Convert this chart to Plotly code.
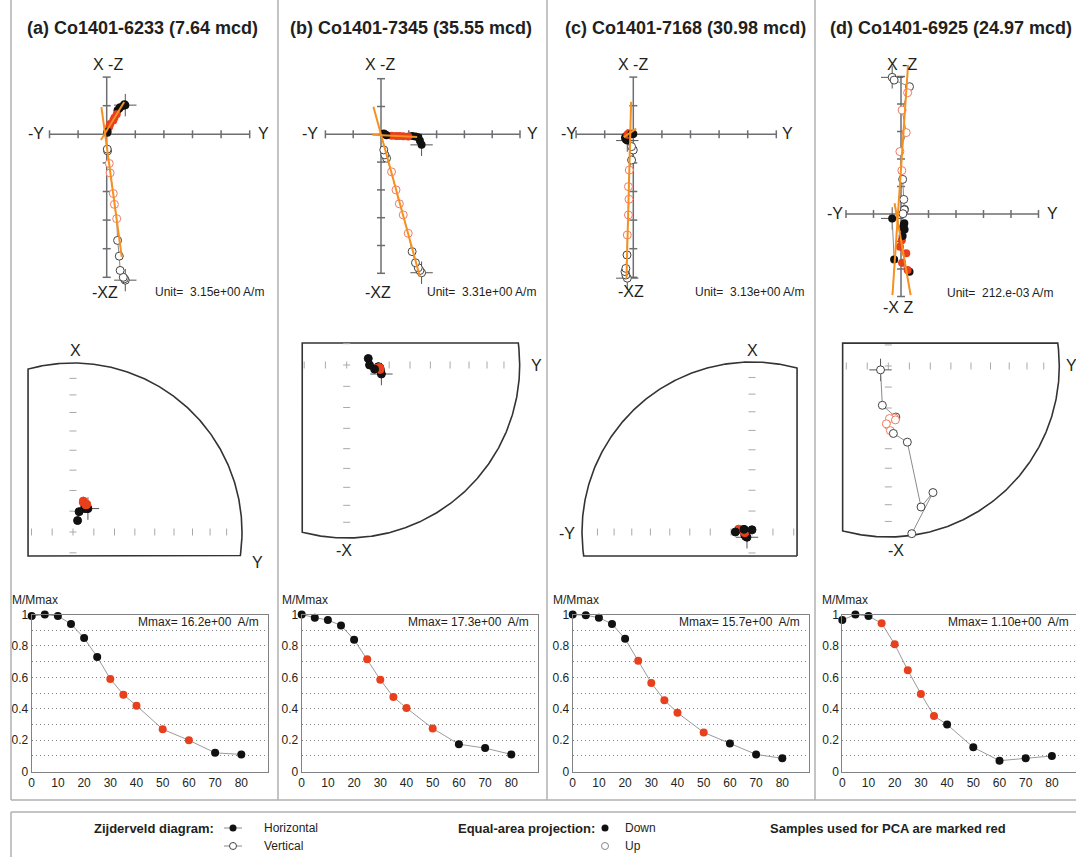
import numpy as np
import plotly.graph_objects as go

W, H = 1076, 857
FONT = "Liberation Sans, Arial, Helvetica, sans-serif"
TXT = "#231f20"

# ---------------- data ----------------
steps = [0, 5, 10, 15, 20, 25, 30, 35, 40, 50, 60, 70, 80]

titles = ["(a) Co1401-6233 (7.64 mcd)", "(b) Co1401-7345 (35.55 mcd)",
          "(c) Co1401-7168 (30.98 mcd)", "(d) Co1401-6925 (24.97 mcd)"]
unit_labels = ["Unit=  3.15e+00 A/m", "Unit=  3.31e+00 A/m",
               "Unit=  3.13e+00 A/m", "Unit=  212.e-03 A/m"]
mmax_labels = ["Mmax= 16.2e+00  A/m", "Mmax= 17.3e+00  A/m",
               "Mmax= 15.7e+00  A/m", "Mmax= 1.10e+00  A/m"]
tick_x_labels = [0, 10, 20, 30, 40, 50, 60, 70, 80]

# Zijderveld components (in units of "Unit"): Y (east), X (north), Z (down)
comp_y_a = [0.65, 0.62, 0.58, 0.47, 0.44, 0.38, 0.35, 0.27, 0.23, 0.12, 0.09, 0.03, 0.02]
comp_x_a = [1.02, 1.05, 1.00, 0.95, 0.90, 0.84, 0.70, 0.58, 0.48, 0.36, 0.26, 0.10, 0.05]
comp_z_a = [5.10, 5.05, 5.00, 4.76, 4.26, 3.71, 2.95, 2.45, 2.07, 1.35, 1.02, 0.58, 0.52]
mnorm_a = [0.99, 1.00, 0.99, 0.94, 0.85, 0.73, 0.59, 0.49, 0.42, 0.27, 0.20, 0.12, 0.11]
pca_a = [30, 35, 40, 50, 60]

comp_y_b = [1.46, 1.40, 1.34, 1.24, 1.12, 0.98, 0.80, 0.66, 0.54, 0.38, 0.20, 0.14, 0.10]
comp_x_b = [-0.38, -0.23, -0.11, -0.08, -0.06, -0.08, -0.07, -0.06, -0.06, -0.05, -0.03, 0.00, 0.03]
comp_z_b = [4.98, 4.90, 4.80, 4.62, 4.22, 3.56, 2.90, 2.50, 2.00, 1.35, 0.86, 0.74, 0.56]
mnorm_b = [1.00, 0.98, 0.965, 0.93, 0.84, 0.715, 0.585, 0.475, 0.405, 0.275, 0.175, 0.15, 0.11]
pca_b = [25, 30, 35, 40, 50]

comp_y_c = [-0.21, -0.26, -0.29, -0.26, -0.22, -0.21, -0.17, -0.15, -0.17, -0.14, -0.06, 0.00, -0.06]
comp_x_c = [-0.22, -0.18, -0.12, -0.08, -0.04, -0.02, 0.00, 0.02, 0.03, 0.03, 0.02, 0.01, 0.00]
comp_z_c = [5.03, 4.92, 4.80, 4.69, 4.22, 3.52, 2.82, 2.27, 1.83, 1.25, 0.90, 0.55, 0.43]
mnorm_c = [1.00, 0.995, 0.98, 0.94, 0.845, 0.705, 0.565, 0.455, 0.375, 0.25, 0.18, 0.11, 0.085]
pca_c = [25, 30, 35, 40, 50]

comp_y_d = [-0.32, -0.25, 0.31, 0.24, 0.04, 0.19, -0.04, 0.03, 0.06, 0.10, 0.13, 0.12, 0.07]
comp_x_d = [-0.16, -1.65, -2.10, -2.04, -1.77, -1.43, -1.19, -0.95, -0.80, -0.40, -0.56, -0.34, -0.50]
comp_z_d = [-4.97, -4.87, -4.63, -4.41, -3.78, -2.96, -2.27, -1.58, -1.26, -0.53, -0.17, -0.15, -0.01]
mnorm_d = [0.965, 1.00, 0.99, 0.945, 0.81, 0.645, 0.495, 0.355, 0.30, 0.155, 0.07, 0.085, 0.10]
pca_d = [15, 20, 25, 30, 35]

# PCA line extents: vertical projection along -Z, horizontal along the given component
pca_vrange = [[0.95, -4.29], [0.99, -5.12], [1.14, -5.03], [5.42, -2.95]]
pca_hrange = [("x", [-0.2, 1.13]), ("y", [-0.31, 1.30]), ("y", [-0.33, 0.10]), ("x", [0.39, -2.95])]

panels = [
    dict(Y=comp_y_a, X=comp_x_a, Z=comp_z_a, M=mnorm_a, pca=pca_a),
    dict(Y=comp_y_b, X=comp_x_b, Z=comp_z_b, M=mnorm_b, pca=pca_b),
    dict(Y=comp_y_c, X=comp_x_c, Z=comp_z_c, M=mnorm_c, pca=pca_c),
    dict(Y=comp_y_d, X=comp_x_d, Z=comp_z_d, M=mnorm_d, pca=pca_d),
]

# ---------------- geometry (pixels) ----------------
cols = [(12, 278), (279, 547), (548, 815), (816, 1076)]
title_x = [142, 411, 685, 951]
zij_geo = [
    dict(ox=106.7, oy=134.3, s=28.6, hx=(-2, 5), vy=(-5, 2),
         lab=[("-Y", 36, 133), ("Y", 263, 133), ("X -Z", 108, 65), ("-XZ", 105, 292)], unit=(266, 292)),
    dict(ox=381.0, oy=134.3, s=27.8, hx=(-2, 5), vy=(-5, 2),
         lab=[("-Y", 310, 133), ("Y", 532, 133), ("X -Z", 380, 65), ("-XZ", 378, 292)], unit=(538, 292)),
    dict(ox=633.3, oy=134.3, s=28.6, hx=(-2, 5), vy=(-5, 2),
         lab=[("-Y", 569, 133), ("Y", 787, 133), ("X -Z", 633, 65), ("-XZ", 631, 291)], unit=(806, 292)),
    dict(ox=901.0, oy=214.0, s=27.5, hx=(-2, 5), vy=(-3, 5),
         lab=[("-Y", 835, 214), ("Y", 1052, 214), ("X -Z", 902, 65), ("-X Z", 898, 307)], unit=(1055, 293)),
]
ea_geo = [
    dict(cx=73.0, cy=532.0, R=169, win=(-0.266, 1.0, -0.142, 1.0), lab=[("X", 75, 350), ("Y", 257, 562)]),
    dict(cx=346.7, cy=365.0, R=173, win=(-0.257, 1.0, -1.0, 0.127), lab=[("Y", 536, 365), ("-X", 344, 550)]),
    dict(cx=752.0, cy=532.0, R=170, win=(-1.0, 0.265, -0.141, 1.0), lab=[("X", 752, 350), ("-Y", 567, 533)]),
    dict(cx=888.3, cy=366.0, R=171, win=(-0.267, 1.0, -1.0, 0.134), lab=[("Y", 1071, 365), ("-X", 896, 550)]),
]
dm_geo = [(31.7, 267.5), (301.7, 537.5), (572.7, 808.5), (842.3, 1076.0)]
dm_top, dm_bot = 614.5, 771.7
dm_px10 = 26.2

BLACK = "#111111"
RED = "#e8401c"
RED_OPEN = "#ef7b63"
GRAY = "#8a8a8a"
ORANGE = "#f7901e"
AXG = "#6d6e71"
CROSS = "#555555"

fig = go.Figure()
layout = {}
annotations = []
shapes = []


def dom_x(x0, x1):
    return [max(0.0, x0 / W), min(1.0, x1 / W)]


def dom_y(y0, y1):
    return [max(0.0, 1 - y1 / H), min(1.0, 1 - y0 / H)]


def set_axes(n, xd, yd, xr, yr, xa_extra=None, ya_extra=None):
    xa = dict(domain=xd, range=xr, visible=False, fixedrange=True, anchor=f"y{n}", automargin=False)
    ya = dict(domain=yd, range=yr, visible=False, fixedrange=True, anchor=f"x{n}", automargin=False)
    if xa_extra:
        xa.update(xa_extra)
    if ya_extra:
        ya.update(ya_extra)
    layout["xaxis" if n == 1 else f"xaxis{n}"] = xa
    layout["yaxis" if n == 1 else f"yaxis{n}"] = ya


def ann(text, x, y, size=12, xanchor="center", yanchor="middle", bold=False, color=TXT):
    if bold:
        text = f"<b>{text}</b>"
    annotations.append(dict(text=text, x=x / W, y=1 - y / H, xref="paper", yref="paper",
                            showarrow=False, xanchor=xanchor, yanchor=yanchor,
                            font=dict(family=FONT, size=size, color=color)))


def sc(n, **kw):
    kw.setdefault("hoverinfo", "skip")
    kw.setdefault("showlegend", False)
    fig.add_trace(go.Scatter(xaxis=f"x{n}", yaxis=f"y{n}", cliponaxis=False, **kw))


def clip_poly(pts, l, r, b, t):
    def clip(poly, inside, inter):
        out = []
        for i in range(len(poly)):
            cur, prev = poly[i], poly[i - 1]
            if inside(cur):
                if not inside(prev):
                    out.append(inter(prev, cur))
                out.append(cur)
            elif inside(prev):
                out.append(inter(prev, cur))
        return out

    def ix(p, q, xv):
        f = (xv - p[0]) / (q[0] - p[0])
        return (xv, p[1] + f * (q[1] - p[1]))

    def iy(p, q, yv):
        f = (yv - p[1]) / (q[1] - p[1])
        return (p[0] + f * (q[0] - p[0]), yv)

    poly = clip(pts, lambda p: p[0] >= l, lambda p, q: ix(p, q, l))
    poly = clip(poly, lambda p: p[0] <= r, lambda p, q: ix(p, q, r))
    poly = clip(poly, lambda p: p[1] >= b, lambda p, q: iy(p, q, b))
    poly = clip(poly, lambda p: p[1] <= t, lambda p, q: iy(p, q, t))
    return poly


cross_marker = dict(symbol="cross-thin-open", size=16, color=CROSS, line=dict(color=CROSS, width=1))

for p, d in enumerate(panels):
    Y = np.array(d["Y"], float)
    X = np.array(d["X"], float)
    Z = np.array(d["Z"], float)
    M = np.array(d["M"], float)
    red = np.array([s_ in d["pca"] for s_ in steps])

    ann(titles[p], title_x[p], 28, size=18, bold=True)

    # ---------- Zijderveld ----------
    n = 3 * p + 1
    g = zij_geo[p]
    ox, oy, s = g["ox"], g["oy"], g["s"]
    bx0, bx1 = cols[p]
    by0, by1 = 42, 322
    set_axes(n, dom_x(bx0, bx1), dom_y(by0, by1),
             [(bx0 - ox) / s, (bx1 - ox) / s], [(oy - by1) / s, (oy - by0) / s])
    h0, h1 = g["hx"]
    v0, v1 = g["vy"]
    tk = 4.0 / s
    axx = [h0, h1, None, 0, 0, None]
    axy = [0, 0, None, v0, v1, None]
    for t in range(h0, h1 + 1):
        if t != 0:
            axx += [t, t, None]
            axy += [-tk, tk, None]
    for t in range(v0, v1 + 1):
        if t != 0:
            axx += [-tk, tk, None]
            axy += [t, t, None]
    sc(n, x=axx, y=axy, mode="lines", line=dict(color=AXG, width=1.5))

    # NRM crosshairs
    sc(n, x=[Y[0], Y[0]], y=[X[0], -Z[0]], mode="markers", marker=cross_marker)
    # connecting lines
    sc(n, x=Y, y=X, mode="lines", line=dict(color=GRAY, width=1))
    sc(n, x=Y, y=-Z, mode="lines", line=dict(color=GRAY, width=1))
    # vertical projection (open)
    sc(n, x=Y, y=-Z, mode="markers",
       marker=dict(size=8, color="white",
                   line=dict(color=[RED_OPEN if r_ else "#444444" for r_ in red], width=1)))
    # horizontal projection (filled)
    sc(n, x=Y, y=X, mode="markers",
       marker=dict(size=8, color=[RED if r_ else BLACK for r_ in red], line=dict(width=0)))
    # PCA lines fitted through red points
    yr_, zr_, xr_ = Y[red], -Z[red], X[red]
    bv, av = np.polyfit(zr_, yr_, 1)
    vv = np.array(pca_vrange[p])
    sc(n, x=av + bv * vv, y=vv, mode="lines", line=dict(color=ORANGE, width=2))
    orient, hr = pca_hrange[p]
    hv = np.array(hr)
    if orient == "x":
        bh, ah = np.polyfit(xr_, yr_, 1)
        sc(n, x=ah + bh * hv, y=hv, mode="lines", line=dict(color=ORANGE, width=2))
    else:
        bh, ah = np.polyfit(yr_, xr_, 1)
        sc(n, x=hv, y=ah + bh * hv, mode="lines", line=dict(color=ORANGE, width=2))

    for txt, lx, ly in g["lab"]:
        ann(txt, lx, ly, size=16)
    ann(unit_labels[p], g["unit"][0], g["unit"][1], size=12, xanchor="right")

    # ---------- Equal-area ----------
    n = 3 * p + 2
    e = ea_geo[p]
    cx, cy, R = e["cx"], e["cy"], e["R"]
    l, r, b, t = e["win"]
    pad = 14
    set_axes(n, dom_x(cx + l * R - pad, cx + r * R + pad), dom_y(cy - t * R - pad, cy - b * R + pad),
             [l - pad / R, r + pad / R], [b - pad / R, t + pad / R])
    ang = np.linspace(0, 2 * np.pi, 721)[:-1]
    circ = [(float(np.cos(a_)), float(np.sin(a_))) for a_ in ang]
    poly = clip_poly(circ, l, r, b, t)
    poly.append(poly[0])
    sc(n, x=[q[0] for q in poly], y=[q[1] for q in poly], mode="lines",
       line=dict(color="#333333", width=1.6))
    dl = 3.5 / R
    tx, ty = [-dl, dl, None, 0, 0, None], [0, 0, None, -dl, dl, None]
    eps = 1e-6
    for th in range(10, 90, 10):
        rr = np.sqrt(2) * np.sin(np.radians(th) / 2)
        for sg in (-1, 1):
            if l - eps <= sg * rr <= r + eps:
                tx += [sg * rr, sg * rr, None]
                ty += [-dl, dl, None]
            if b - eps <= sg * rr <= t + eps:
                tx += [-dl, dl, None]
                ty += [sg * rr, sg * rr, None]
    sc(n, x=tx, y=ty, mode="lines", line=dict(color="#a7a9ac", width=1))

    Hh = np.hypot(X, Y)
    dec = np.arctan2(Y, X)
    inc = np.arctan2(Z, Hh)
    rad = np.sqrt(2) * np.sin((np.pi / 2 - np.abs(inc)) / 2)
    ex, ey = rad * np.sin(dec), rad * np.cos(dec)
    down = inc > 0
    sc(n, x=[ex[0]], y=[ey[0]], mode="markers", marker=cross_marker)
    sc(n, x=ex, y=ey, mode="lines", line=dict(color=GRAY, width=1))
    fill = []
    edge = []
    for dn, r_ in zip(down, red):
        if dn:
            fill.append(RED if r_ else BLACK)
            edge.append(RED if r_ else BLACK)
        else:
            fill.append("white")
            edge.append(RED_OPEN if r_ else "#444444")
    sc(n, x=ex, y=ey, mode="markers",
       marker=dict(size=8, color=fill, line=dict(color=edge, width=1)))
    for txt, lx, ly in e["lab"]:
        ann(txt, lx, ly, size=16)

    # ---------- Demagnetisation curve ----------
    n = 3 * p + 3
    x0, x1 = dm_geo[p]
    xmax = (x1 - x0) / dm_px10 * 10
    set_axes(n, dom_x(x0, x1), dom_y(dm_top, dm_bot), [0, xmax], [0, 1.0],
             xa_extra=dict(visible=True, showline=True, mirror=True, linecolor="#808285", linewidth=1,
                           tickvals=tick_x_labels, ticks="", showgrid=False, zeroline=False,
                           tickfont=dict(family=FONT, size=12, color=TXT)),
             ya_extra=dict(visible=True, showline=True, mirror=True, linecolor="#808285", linewidth=1,
                           tickvals=[0, 0.2, 0.4, 0.6, 0.8, 1.0], ticktext=["0", "0.2", "0.4", "0.6", "0.8", "1"],
                           ticks="", showgrid=True, gridcolor="#808080", griddash="1px,3px", gridwidth=1,
                           zeroline=False,
                           minor=dict(tickvals=[0.1, 0.3, 0.5, 0.7, 0.9], showgrid=True,
                                      gridcolor="#808080", griddash="1px,3px", gridwidth=1),
                           tickfont=dict(family=FONT, size=12, color=TXT)))
    sc(n, x=steps, y=M, mode="lines", line=dict(color="#9a9a9a", width=1))
    sc(n, x=steps, y=M, mode="markers",
       marker=dict(size=8, color=[RED if r_ else BLACK for r_ in red], line=dict(width=0)))
    ann("M/Mmax", x0 + 3, 600, size=12)
    ann(mmax_labels[p], x0 + 229, 622, size=12, xanchor="right")

# ---------------- frame lines ----------------
LINEC = "#b0b0b0"
for xv in [11, 278, 547, 815]:
    shapes.append(dict(type="line", xref="paper", yref="paper", x0=xv / W, x1=xv / W,
                       y0=1 - 800 / H, y1=1, line=dict(color=LINEC, width=1.5)))
shapes.append(dict(type="line", xref="paper", yref="paper", x0=11 / W, x1=1,
                   y0=1 - 800 / H, y1=1 - 800 / H, line=dict(color=LINEC, width=1.5)))
shapes.append(dict(type="line", xref="paper", yref="paper", x0=11 / W, x1=1,
                   y0=1 - 812 / H, y1=1 - 812 / H, line=dict(color=LINEC, width=1.5)))
shapes.append(dict(type="line", xref="paper", yref="paper", x0=11 / W, x1=11 / W,
                   y0=0, y1=1 - 812 / H, line=dict(color=LINEC, width=1.5)))

# ---------------- legend (overlay axis in pixel coordinates) ----------------
n = 13
set_axes(n, [0, 1], [0, 1], [0, W], [H, 0])
sc(n, x=[224, 242, None, 224, 242], y=[828, 828, None, 846, 846], mode="lines",
   line=dict(color=GRAY, width=1))
sc(n, x=[233], y=[828], mode="markers", marker=dict(size=7, color=BLACK))
sc(n, x=[233], y=[846], mode="markers", marker=dict(size=7, color="white", line=dict(color="#444444", width=1)))
sc(n, x=[605], y=[828], mode="markers", marker=dict(size=7, color=BLACK))
sc(n, x=[605], y=[846], mode="markers", marker=dict(size=7, color="white", line=dict(color="#888888", width=1)))
ann("Zijderveld diagram:", 216, 828, size=13, xanchor="right", bold=True)
ann("Horizontal", 262, 828, size=12, xanchor="left")
ann("Vertical", 262, 846, size=12, xanchor="left")
ann("Equal-area projection:", 597, 828, size=13, xanchor="right", bold=True)
ann("Down", 623, 828, size=12, xanchor="left")
ann("Up", 623, 846, size=12, xanchor="left")
ann("Samples used for PCA are marked red", 768, 828, size=13, xanchor="left", bold=True)

fig.update_layout(**layout)
fig.update_layout(width=W, height=H,
                  margin=dict(l=0, r=0, t=0, b=0, pad=0, autoexpand=False),
                  paper_bgcolor="white", plot_bgcolor="rgba(0,0,0,0)",
                  showlegend=False, annotations=annotations, shapes=shapes,
                  font=dict(family=FONT, color=TXT))
fig.write_html("out.html", config={"displayModeBar": False},
               post_script="document.body.style.margin='0px';document.body.style.padding='0px';"
                           "document.body.style.overflow='hidden';")
